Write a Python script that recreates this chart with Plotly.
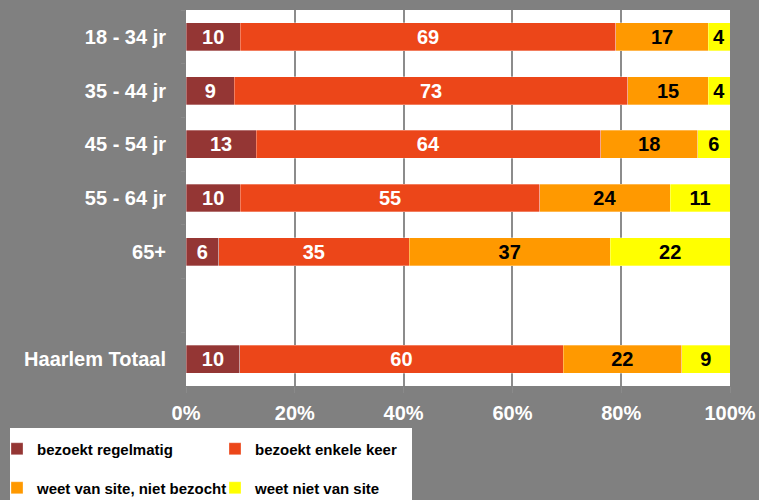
import plotly.graph_objects as go

categories = ["18 - 34 jr", "35 - 44 jr", "45 - 54 jr", "55 - 64 jr", "65+", "Haarlem Totaal"]
axis_order = ["18 - 34 jr", "35 - 44 jr", "45 - 54 jr", "55 - 64 jr", "65+", " ", "Haarlem Totaal"]

regelmatig = [10, 9, 13, 10, 6, 10]
enkele_keer = [69, 73, 64, 55, 35, 60]
niet_bezocht = [17, 15, 18, 24, 37, 22]
niet_van_site = [4, 4, 6, 11, 22, 9]

x_tick_values = [0, 20, 40, 60, 80, 100]
x_tick_labels = ["0%", "20%", "40%", "60%", "80%", "100%"]

series_names = ["bezoekt regelmatig", "bezoekt enkele keer",
                "weet van site, niet bezocht", "weet niet van site"]
series_values = [regelmatig, enkele_keer, niet_bezocht, niet_van_site]
colors = ["#943634", "#EC4619", "#FF9900", "#FFFF00"]
text_colors = ["white", "white", "black", "black"]
legends = ["legend", "legend", "legend2", "legend2"]

FONT = "Liberation Sans, Arial, sans-serif"

fig = go.Figure()
for name, vals, col, tcol, lg in zip(series_names, series_values, colors, text_colors, legends):
    fig.add_trace(go.Bar(
        y=categories, x=vals, name=name, orientation="h",
        marker=dict(color=col, line=dict(color="rgba(255,255,255,0.6)", width=0.5)),
        text=[str(v) for v in vals], textposition="inside", insidetextanchor="middle",
        textangle=0, constraintext="none",
        textfont=dict(family=FONT, size=20, color=tcol, weight="bold"),
        legend=lg, hoverinfo="skip",
    ))

fig.add_shape(type="rect", xref="paper", yref="paper",
              x0=(10 - 186) / 544, x1=(412 - 186) / 544,
              y0=(386 - 520) / 376, y1=(386 - 428) / 376,
              fillcolor="white", line=dict(width=0), layer="below")

legend_common = dict(orientation="h", xanchor="left", yanchor="middle",
                     traceorder="normal",
                     bgcolor="rgba(0,0,0,0)", borderwidth=0,
                     entrywidth=173, entrywidthmode="pixels",
                     font=dict(family=FONT, size=15, color="black", weight="bold"),
                     itemclick=False, itemdoubleclick=False)

fig.update_layout(
    width=759, height=500,
    paper_bgcolor="#808080", plot_bgcolor="white",
    margin=dict(l=186, r=29, t=10, b=114, autoexpand=False),
    barmode="stack", barnorm="percent", bargap=0.48,
    showlegend=True,
    legend=dict(x=(-3 - 186) / 544, y=(386 - 449) / 376, **legend_common),
    legend2=dict(x=(-3 - 186) / 544, y=(386 - 488) / 376, **legend_common),
    xaxis=dict(range=[0, 100], tickmode="array", tickvals=x_tick_values, ticktext=x_tick_labels,
               showgrid=True, gridcolor="#8c8c8c", gridwidth=1.5,
               zeroline=False, showline=False,
               ticks="outside", ticklen=6, tickcolor="#8a8a8a",
               ticklabelstandoff=3,
               tickfont=dict(family=FONT, size=20, color="white", weight="bold")),
    yaxis=dict(categoryorder="array", categoryarray=axis_order, type="category",
               range=[6.5, -0.5], tickson="boundaries",
               ticks="outside", ticklen=4, tickcolor="#8a8a8a",
               showgrid=False, zeroline=False, showline=False,
               ticklabelstandoff=19,
               tickfont=dict(family=FONT, size=20, color="white", weight="bold")),
)

fig.write_html("out.html", config={"displayModeBar": False},
               post_script="document.body.style.margin='0';")
